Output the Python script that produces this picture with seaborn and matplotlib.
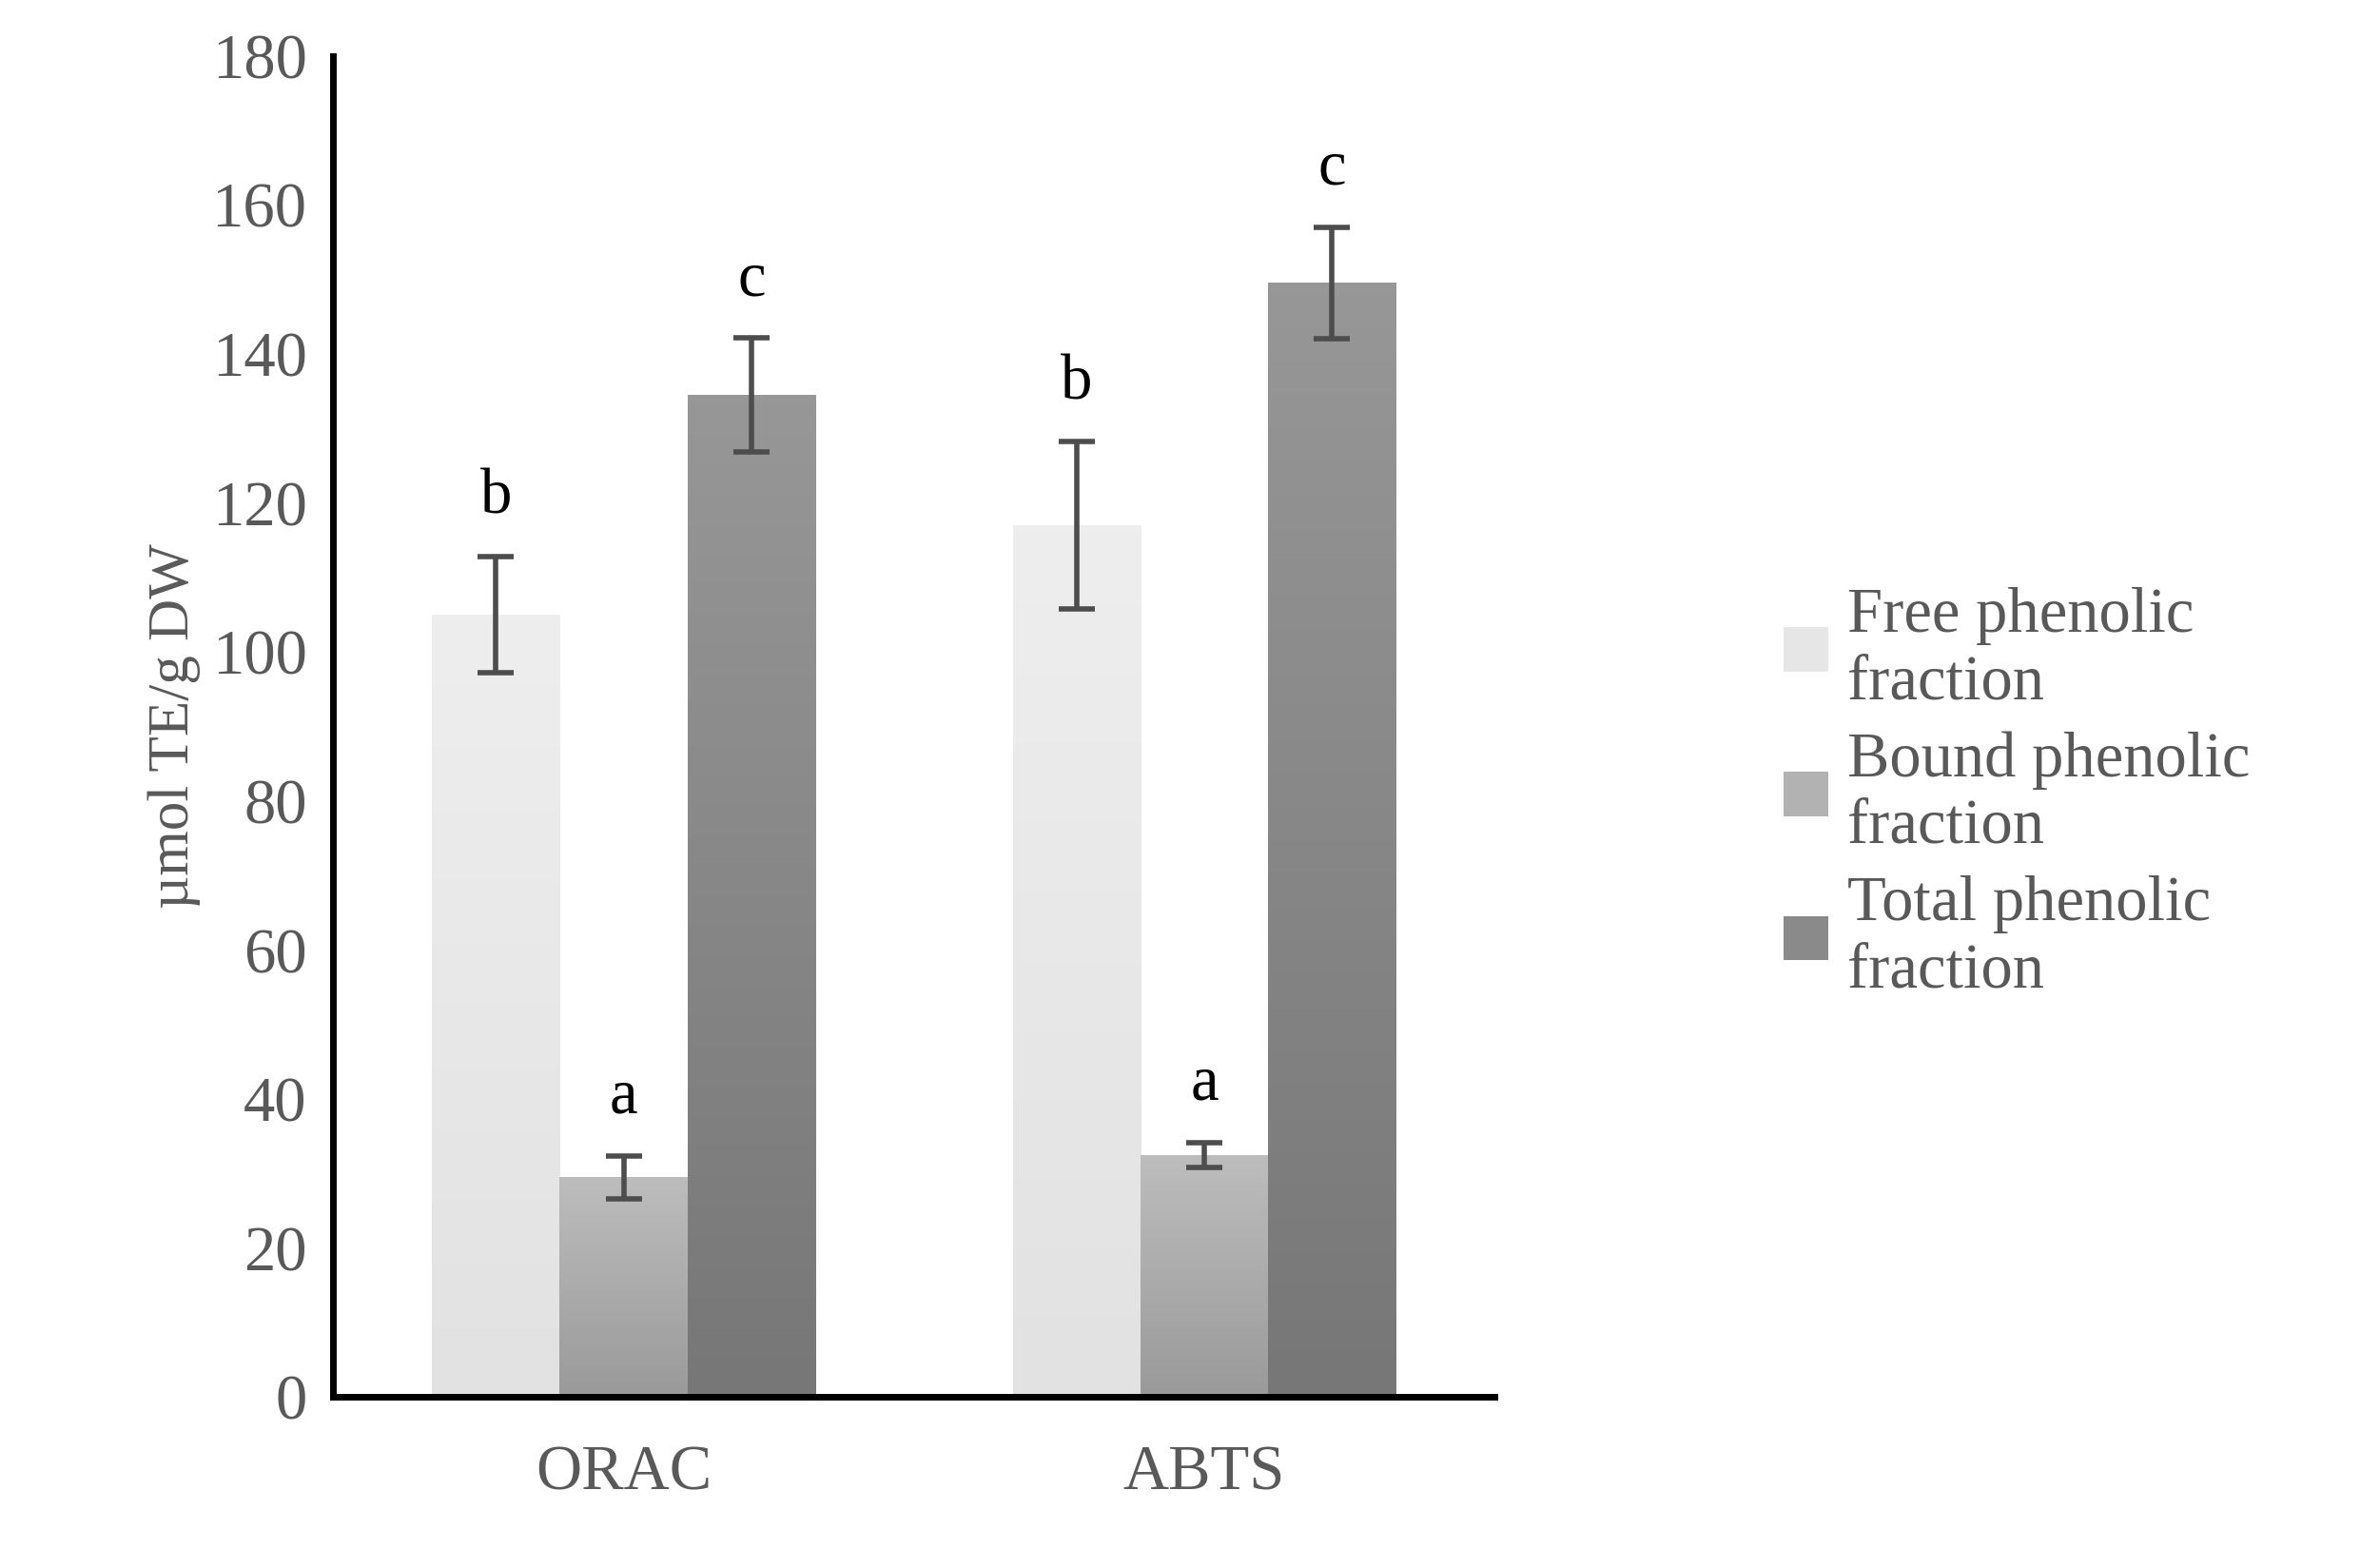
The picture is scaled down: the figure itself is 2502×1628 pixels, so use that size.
import numpy as np
import pandas as pd
import matplotlib
matplotlib.use("Agg")
import matplotlib.pyplot as plt
import seaborn as sns

assays = ["ORAC", "ABTS"]
fractions = ["Free phenolic\nfraction", "Bound phenolic\nfraction", "Total phenolic\nfraction"]
free_vals = [105.0, 117.0]
bound_vals = [29.5, 32.5]
total_vals = [134.5, 149.5]
free_err = [7.8, 11.2]
bound_err = [2.9, 1.7]
total_err = [7.6, 7.5]
letters = [["b", "b"], ["a", "a"], ["c", "c"]]

df = pd.DataFrame({
    "assay": assays * 3,
    "fraction": [f for f in fractions for _ in assays],
    "value": free_vals + bound_vals + total_vals,
})
errs = [free_err, bound_err, total_err]

sns.set_style("white")
plt.rcParams["font.family"] = ["Liberation Serif", "DejaVu Serif"]

fig = plt.figure(figsize=(12.51, 8.14), dpi=200)
ax = fig.add_axes([0.14, 0.098, 0.488, 0.866])
palette = ["#e6e6e6", "#b2b2b2", "#8a8a8a"]
sns.barplot(data=df, x="assay", y="value", hue="fraction", palette=palette,
            width=0.66, ax=ax, errorbar=None, saturation=1, edgecolor="none")

# vertical gradient on each bar
grads = [("#eeeeee", "#e2e2e2"), ("#bdbdbd", "#9a9a9a"), ("#979797", "#777777")]
bar_conts = list(ax.containers)
for i, cont in enumerate(bar_conts):
    c1 = np.array(matplotlib.colors.to_rgb(grads[i][0]))
    c2 = np.array(matplotlib.colors.to_rgb(grads[i][1]))
    for j, bar in enumerate(cont):
        x0, w, h = bar.get_x(), bar.get_width(), bar.get_height()
        t = np.linspace(0, 1, 100)[:, None]
        img = (c1 * t + c2 * (1 - t))[:, None, :]
        im = ax.imshow(img, extent=[x0, x0 + w, 0, h], origin="lower",
                       aspect="auto", zorder=bar.get_zorder())
        im.set_clip_path(bar)
        cx = x0 + w / 2
        ax.errorbar(cx, h, yerr=errs[i][j], color="#4d4d4d", capsize=7,
                    capthick=2, elinewidth=2, zorder=5)
        ax.text(cx, h + errs[i][j] + 4, letters[i][j], ha="center", va="bottom",
                fontsize=24, color="black")

ax.set_xlim(-0.5, 1.5)
ax.set_ylim(0, 180)
ax.set_yticks(range(0, 181, 20))
ax.set_xlabel("")
ax.set_ylabel("µmol TE/g DW", fontsize=22, color="#595959")
ax.tick_params(axis="both", labelsize=24, colors="#595959", length=0, pad=10)
ax.tick_params(axis="x", pad=18)
for s in ["top", "right"]:
    ax.spines[s].set_visible(False)
for s in ["left", "bottom"]:
    ax.spines[s].set_color("black")
    ax.spines[s].set_linewidth(2.5)

handles, labels = ax.get_legend_handles_labels()
leg = ax.legend(handles, labels, loc="center left", bbox_to_anchor=(1.2, 0.45),
                frameon=False, fontsize=24, handlelength=0.7, handleheight=0.7,
                labelspacing=0.3, handletextpad=0.3)
for t in leg.get_texts():
    t.set_color("#595959")

fig.savefig("out.png", dpi=200)
